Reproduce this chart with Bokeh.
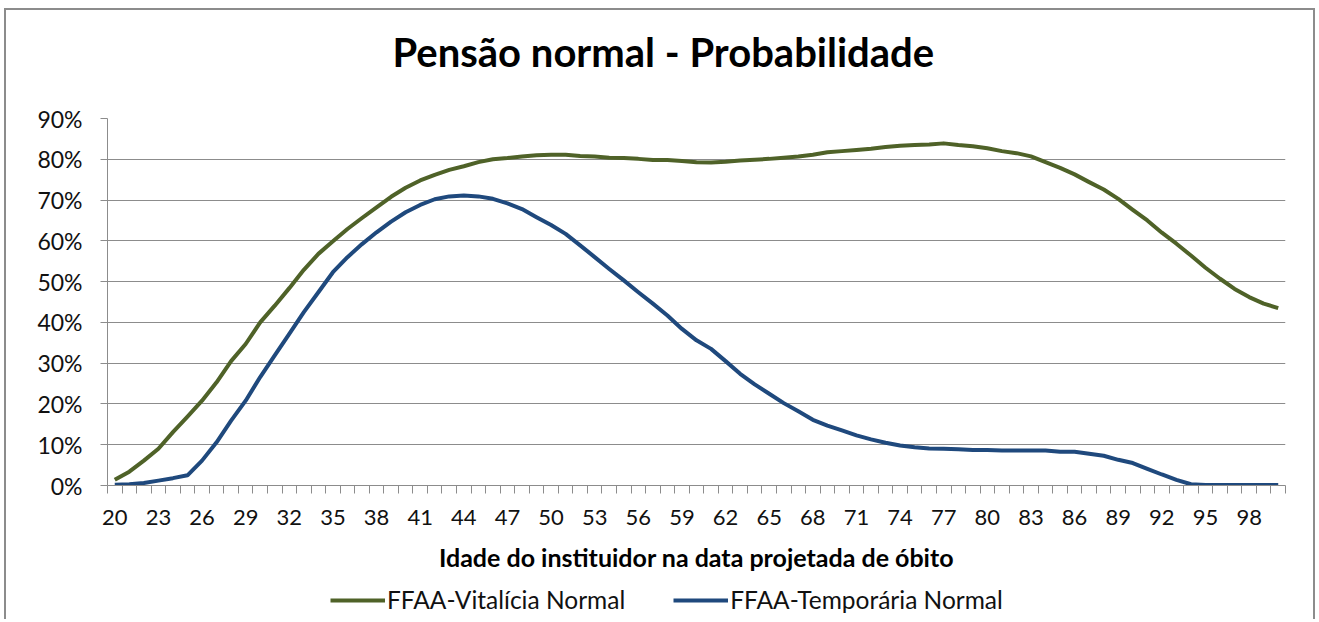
from bokeh.plotting import figure
from bokeh.layouts import column
from bokeh.models import (FixedTicker, NumeralTickFormatter, Range1d, Legend,
                          LegendItem, Title)
from bokeh.embed import file_html
from bokeh.resources import INLINE

# ---------------- data ----------------
ages = list(range(20, 101))
vitalicia_pct = [
    1.4, 3.4, 6.1, 9.0, 13.1, 16.9, 20.8, 25.3, 30.5, 34.7,
    40.0, 44.1, 48.4, 52.9, 56.8, 59.9, 62.9, 65.6, 68.2, 70.8,
    73.0, 74.8, 76.2, 77.4, 78.3, 79.3, 80.0, 80.3, 80.7, 81.0,
    81.1, 81.1, 80.8, 80.7, 80.4, 80.3, 80.1, 79.8, 79.8, 79.6,
    79.3, 79.2, 79.4, 79.7, 79.9, 80.1, 80.4, 80.7, 81.1, 81.7,
    82.0, 82.3, 82.6, 83.0, 83.3, 83.5, 83.6, 83.9, 83.5, 83.2,
    82.7, 82.0, 81.5, 80.7, 79.3, 77.9, 76.3, 74.4, 72.6, 70.3,
    67.6, 65.0, 62.0, 59.3, 56.4, 53.4, 50.7, 48.2, 46.2, 44.6,
    43.5,
]
temporaria_pct = [
    0.2, 0.3, 0.6, 1.2, 1.8, 2.5, 6.1, 10.6, 15.9, 20.8,
    26.6, 31.9, 37.2, 42.5, 47.4, 52.3, 56.0, 59.2, 62.1, 64.7,
    67.0, 68.8, 70.2, 70.9, 71.1, 70.9, 70.3, 69.2, 67.8, 65.8,
    63.9, 61.7, 58.9, 56.0, 53.1, 50.3, 47.4, 44.6, 41.7, 38.4,
    35.6, 33.5, 30.5, 27.4, 24.8, 22.5, 20.2, 18.2, 16.1, 14.7,
    13.5, 12.3, 11.3, 10.5, 9.8, 9.4, 9.1, 9.0, 8.9, 8.7,
    8.7, 8.6, 8.6, 8.6, 8.6, 8.3, 8.3, 7.8, 7.3, 6.3,
    5.5, 4.1, 2.7, 1.4, 0.3, 0.1, 0.1, 0.1, 0.1, 0.1,
    0.1,
]
x_tick_labels = list(range(20, 101, 3))          # 20, 23, ..., 98
y_ticks = [0.0, 0.1, 0.2, 0.3, 0.4, 0.5, 0.6, 0.7, 0.8, 0.9]

series_names = ["FFAA-Vitalícia Normal", "FFAA-Temporária Normal"]
title_text = "Pensão normal - Probabilidade"
x_title = "Idade do instituidor na data projetada de óbito"

vitalicia = [v / 100 for v in vitalicia_pct]
temporaria = [v / 100 for v in temporaria_pct]

GREEN = "#4F6228"
BLUE = "#1F497D"
GRID = "#8C8C8C"
FONT = "Lato"
TXT = "#111111"
LW = 4

# ---------------- main chart ----------------
p = figure(width=1319, height=584, output_backend="svg", toolbar_location=None,
           x_range=Range1d(19.5, 100.5), y_range=Range1d(0, 0.9),
           min_border_left=107, min_border_right=34,
           min_border_top=118, min_border_bottom=99)
p.outline_line_color = None
p.background_fill_color = "white"
p.border_fill_alpha = 0

# spacer (nearest to the frame) then the real title
spacer = Title(text=" ", text_font_size="2px", standoff=39, text_color="white")
p.add_layout(spacer, "above")
title = Title(text=title_text, align="left", offset=285, vertical_align="bottom",
              text_font=FONT, text_font_size="40px", text_font_style="bold",
              text_color="black", standoff=0)
p.add_layout(title, "above")

p.line(ages, vitalicia, line_color=GREEN, line_width=LW, line_join="round")
p.line(ages, temporaria, line_color=BLUE, line_width=LW, line_join="round")

# x axis
xa = p.xaxis[0]
xa.ticker = FixedTicker(ticks=x_tick_labels,
                        minor_ticks=[a - 0.5 for a in ages] + [ages[-1] + 0.5])
xa.axis_line_color = GRID
xa.major_tick_line_color = None
xa.major_tick_out = 8
xa.major_tick_in = 0
xa.minor_tick_line_color = GRID
xa.minor_tick_out = 8
xa.minor_tick_in = 0
xa.major_label_standoff = 16
xa.major_label_text_font = FONT
xa.major_label_text_font_size = "22px"
xa.major_label_text_color = TXT
xa.axis_label = x_title
xa.axis_label_text_font = FONT
xa.axis_label_text_font_size = "25px"
xa.axis_label_text_font_style = "bold"
xa.axis_label_text_color = "black"
xa.axis_label_standoff = 14

# y axis
ya = p.yaxis[0]
ya.ticker = FixedTicker(ticks=y_ticks)
ya.formatter = NumeralTickFormatter(format="0%")
ya.axis_line_color = GRID
ya.major_tick_line_color = GRID
ya.major_tick_out = 7
ya.major_tick_in = 0
ya.minor_tick_line_color = None
ya.major_label_standoff = 18
ya.major_label_text_font = FONT
ya.major_label_text_font_size = "23px"
ya.major_label_text_color = TXT

p.xgrid.grid_line_color = None
p.ygrid.ticker = FixedTicker(ticks=y_ticks)
p.ygrid.grid_line_color = GRID
p.ygrid.grid_line_width = 1

# ---------------- legend strip ----------------
# (its frame is aligned with the main chart's frame by the column layout)
lg = figure(width=1319, height=38, output_backend="svg", toolbar_location=None,
            x_range=Range1d(0, 1), y_range=Range1d(0, 1),
            x_axis_location=None, y_axis_location=None,
            min_border_left=0, min_border_right=0,
            min_border_top=0, min_border_bottom=0)
lg.outline_line_color = None
lg.grid.grid_line_color = None
lg.background_fill_alpha = 0
lg.border_fill_alpha = 0
# same series, lying outside this strip's view: only their legend glyphs show
g1 = lg.line(ages, vitalicia, line_color=GREEN, line_width=LW)
g2 = lg.line(ages, temporaria, line_color=BLUE, line_width=LW)

legend = Legend(items=[LegendItem(label=series_names[0], renderers=[g1]),
                       LegendItem(label=series_names[1], renderers=[g2])],
                orientation="horizontal", location=(223, 8),
                padding=0, margin=0, spacing=48,
                glyph_width=55, glyph_height=26, label_height=26,
                label_standoff=2, label_text_font=FONT,
                label_text_font_size="24.5px", label_text_color=TXT,
                border_line_color=None, background_fill_alpha=0)
lg.add_layout(legend, "center")

frame_css = {"box-shadow": ("inset 0 -3px 0 0 white, "
                            "inset 0 4px 0 4px white, "
                            "inset 0 4px 0 6px #8C8C8C")}
page = column(p, lg, spacing=0, styles=frame_css)

open("out.html", "w").write(file_html(page, INLINE))
